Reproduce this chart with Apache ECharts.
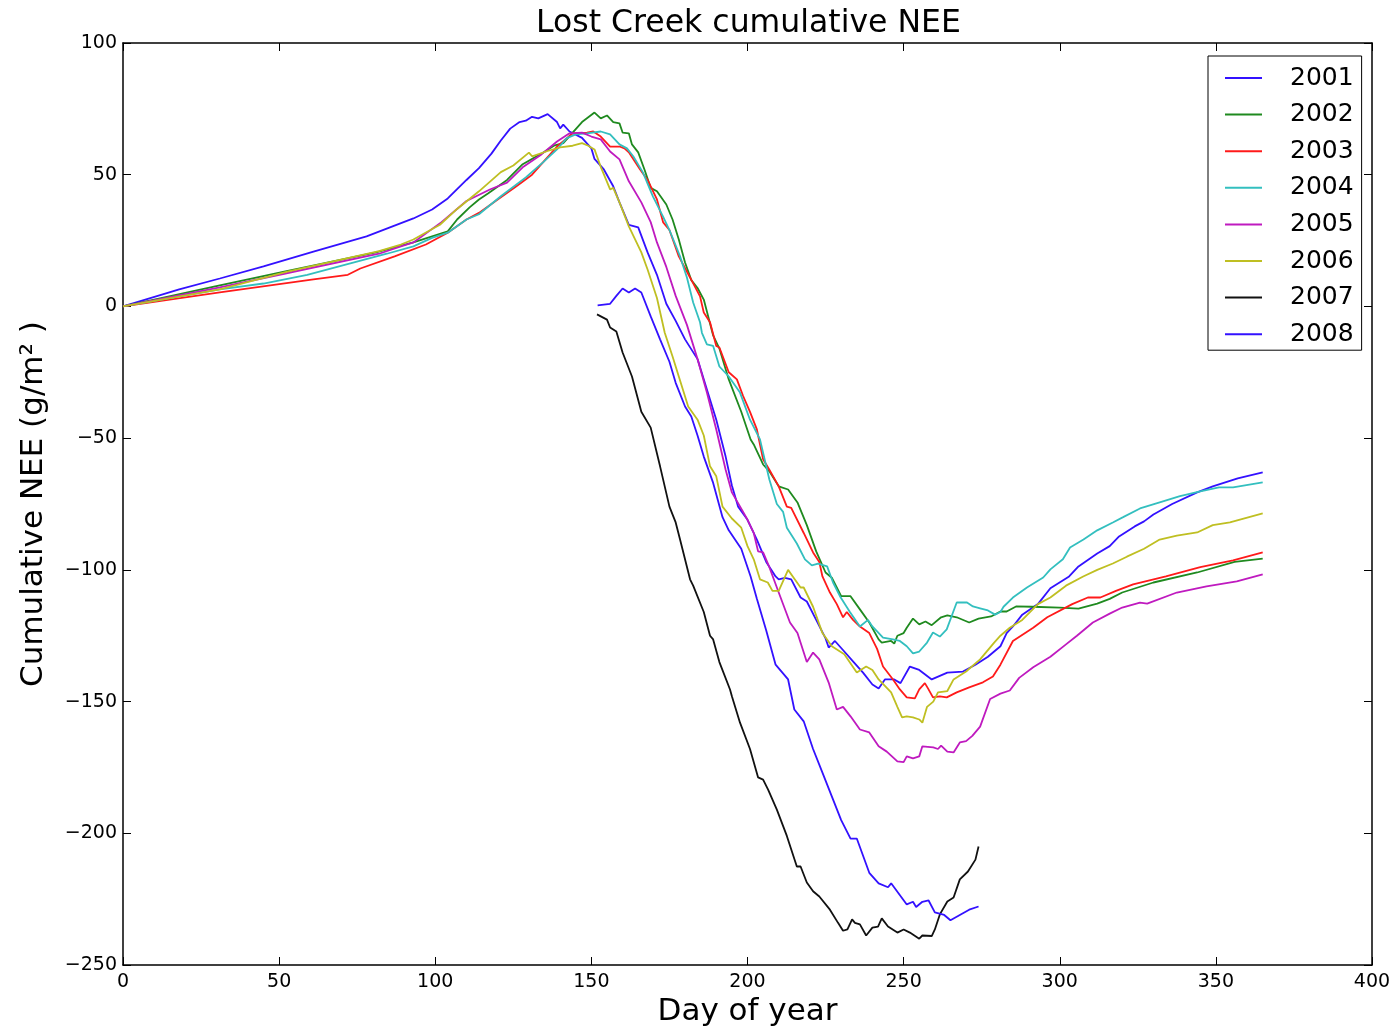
<!DOCTYPE html>
<html>
<head>
<meta charset="utf-8">
<script src="https://cdn.jsdelivr.net/npm/echarts@6/dist/echarts.min.js"></script>
<style>
  html, body { margin: 0; padding: 0; background: #fff; }
  #chart { width: 1400px; height: 1033px; }
</style>
</head>
<body>
<div id="chart"></div>
<script>
// Cumulative NEE per year, as [day of year, g/m2] pairs
const years = ['2001', '2002', '2003', '2004', '2005', '2006', '2007', '2008'];

const nee2001 = [[0,0],[18,6.5],[31,10.6],[45,15.2],[61,20.8],[78,26.6],[93,33.4],[99,36.8],[104,41],[110,48],[114,52.5],[118,58],[121,63],[124,67.5],[127,70],[129,70.5],[131,72],[133,71.4],[136,73],[139,70],[140,67.6],[141,69],[143,66.4],[147,64],[150,60],[151,56],[154,52],[157,45.6],[159,39.5],[162,31],[165,30],[168,20.5],[171,12],[174,1],[177,-5.5],[180,-12.5],[184,-20],[187,-31.5],[190,-43],[193,-57],[195,-68],[197,-76],[200,-81],[203,-88.5],[206,-97],[209,-102.5],[210,-103.6],[212,-103],[214,-103.6],[217,-110.5],[219,-112],[222,-119],[225,-126],[226,-129.5],[228,-127],[231,-131],[234,-135],[237,-139],[240,-143.5],[242,-145],[244,-141.6],[247,-141.6],[249,-143],[252,-136.7],[255,-138],[259,-141.6],[264,-139],[269,-138.6],[273,-136],[277,-133],[281,-129],[283,-124],[285,-121.5],[288,-117],[293,-113],[297,-107],[303,-102.5],[306,-98.7],[312,-93.8],[316,-91],[319,-87.3],[324,-83.5],[327,-81.6],[330,-79],[336,-75],[344,-70.6],[349,-68.3],[357,-65.3],[365,-63]];

const nee2002 = [[0,0],[31,8],[52,13.3],[81,20.5],[93,24.3],[104,28.5],[107,33],[111,37.6],[114,40.6],[117,43],[123,48],[128,54],[134,58],[138,61],[141,62],[144,66],[147,70],[151,73.6],[153,71.4],[155,72.5],[157,70],[159,69.5],[160,66],[162,65.7],[163,61.5],[165,58.5],[167,52],[169,45],[171,43.7],[174,38.7],[176,33],[178,25.4],[180,16.7],[182,10],[184,7],[186,2.6],[189,-11],[191,-16],[194,-27.7],[198,-40],[201,-50.5],[202,-52.4],[205,-60],[207,-62.6],[210,-68.3],[213,-69.5],[216,-74.4],[219,-83],[222,-93],[225,-101],[227,-103],[230,-110],[233,-110],[236,-115],[239,-120],[242,-126.4],[243,-127.6],[246,-127],[247,-128],[248,-125],[250,-124],[251,-122],[253,-118.5],[255,-120.7],[257,-119.6],[259,-121],[262,-118],[264,-117.3],[267,-118],[271,-120],[274,-118.5],[278,-117.7],[281,-115.8],[283,-115.8],[286,-113.9],[291,-114],[300,-114.3],[306,-114.7],[312,-112.8],[316,-111],[320,-108.6],[330,-104.8],[344,-101],[356,-97],[365,-95.7]];

const nee2003 = [[0,0],[31,5.3],[61,10.3],[72,12],[76,14.4],[87,19],[97,23.5],[104,28],[110,33],[114,35.5],[120,40.6],[126,45.6],[131,50],[134.5,54.7],[139,60.7],[144,65.7],[148.6,66],[150.6,66.4],[153,64.5],[156,60.7],[159,60.7],[160.6,60],[162,58.5],[165.6,52],[168,48],[171,40.6],[173,31.9],[175,29],[178,19],[181.6,11],[184.8,3.8],[186,-2.3],[188,-6],[190,-15],[191,-15.6],[194,-25],[196.6,-27.7],[198.6,-34],[200.8,-40],[203,-46.7],[205,-58],[207,-62],[210,-68.3],[212.6,-76],[214,-76.5],[218,-86],[221,-93.4],[223,-97],[224,-102.5],[226.4,-108.6],[228.6,-113],[230.6,-118],[231.8,-116],[233.8,-119],[236,-121.5],[239,-124],[241.5,-130],[243.4,-136.7],[246.6,-141.6],[248.8,-145.4],[251,-148.4],[253.6,-148.8],[255,-145.4],[256.8,-143],[257.8,-145],[259.4,-148.4],[261.6,-148],[263.8,-148.4],[267,-146.5],[271,-144.6],[275.4,-142.7],[278.6,-140.5],[281,-136],[285,-127],[291.5,-122],[296,-118],[304,-113],[309,-110.5],[313,-110.5],[318,-108],[323.5,-105.5],[334,-102.5],[345,-99],[355.5,-96.4],[365,-93.4]];

const nee2004 = [[0,0],[31,6.5],[45,8.7],[59,12],[74,16.7],[84.5,20],[93,22.8],[99,26],[104,28],[110,33],[114,35],[121,41.8],[129,49],[134.5,54.7],[139,59.6],[142,63.8],[145,65.3],[148.6,65.7],[153,66.4],[156,65.3],[159,61.5],[161.4,60],[163.4,57],[166.5,50.9],[169.7,41.8],[173,34],[175,29],[178.4,19],[180.6,11],[182.6,1.5],[184.8,-6],[185.4,-10],[187,-14.4],[189,-15],[191,-22.8],[194,-26.6],[197.6,-32.7],[200.8,-43],[204,-50.5],[207,-65.7],[209.4,-75],[211.4,-78],[212.6,-84],[215.8,-90],[218.4,-96],[220.6,-98.3],[222.6,-97.6],[225.5,-98.7],[227.4,-104.8],[229.6,-110],[232.8,-116],[236,-121.5],[238.6,-119],[240,-121.5],[243.4,-125.7],[246.6,-126.4],[248.8,-127],[251,-129],[253,-131.7],[255,-131],[257.5,-127.6],[259.4,-123.8],[261.6,-125.3],[263.8,-122.6],[267,-112.4],[270.3,-112.4],[272.2,-113.9],[274.5,-114.6],[277,-115.4],[279.3,-117],[281,-116],[282,-114],[285,-110.5],[289.5,-106.7],[294.7,-102.9],[297,-99.8],[301,-96],[303.3,-91.5],[307.6,-88.5],[312,-85],[317,-82],[320.3,-80],[325.7,-76.7],[332,-74.4],[338.5,-72],[345,-70.2],[351,-68.7],[355.5,-68.7],[365,-66.8]];

const nee2005 = [[0,0],[31,7.2],[52,12.5],[82,20],[89,22.8],[93,24.3],[102,32],[110,40],[117.5,44.4],[123,47],[128,52.8],[134,57.7],[139,62.6],[143,65.7],[147,66],[150,64.5],[153,63.4],[156,58.8],[159,55.8],[162,47.5],[166,39.5],[169,32],[171,24.3],[174,15],[177,4],[180.6,-7],[184,-20],[187,-32.7],[190,-46.7],[193,-62],[195,-70.6],[198.6,-78],[200,-81],[202,-86],[203.4,-93],[205,-93.4],[207,-99],[210,-108.6],[213.6,-120],[216,-124],[219,-135],[221,-131.4],[223,-134],[226,-142.8],[228.6,-153],[230.6,-152],[233,-155.6],[236,-160.6],[239,-161.7],[242,-167],[244.6,-169],[248,-172.7],[250,-173],[251,-170.8],[253,-171.6],[255,-170.8],[256,-167],[259.5,-167.4],[261,-168],[262,-166.7],[264,-169],[266,-169.3],[268,-165.5],[270,-165],[272,-163],[274.5,-159.5],[277.7,-149],[281,-147],[284,-145.8],[287,-141],[291.5,-137],[297,-133],[302,-128.3],[305.5,-125],[310.6,-120],[316,-116.6],[320,-114.3],[325.7,-112.4],[328,-112.8],[337.5,-108.6],[347,-106.3],[356.7,-104.4],[365,-101.7]];

const nee2006 = [[0,0],[31,6.5],[52,13],[82,21],[89,23.5],[93,25.4],[101.5,31],[107,37],[114,43.7],[121,51],[125,53.5],[130,58.4],[131,57],[136,59],[140,60.4],[144,61],[147,62],[149,61],[151,59.6],[153,53],[156,44.4],[157,45],[159,39.5],[162,30.4],[166,20.5],[168,14],[171,3.2],[173.5,-10],[176,-19],[178,-26.6],[181,-38],[184,-43],[186,-49],[188,-60.7],[190,-64.5],[192,-76],[195,-80.5],[198,-84],[200,-91],[202,-96],[204,-103.6],[206.5,-104.8],[208,-108],[210,-108],[213,-100],[214.5,-102.5],[217,-106.7],[218,-106.7],[221,-114],[224,-124],[227,-129],[231,-132],[235,-139],[238,-136.7],[240,-138],[242,-141.6],[246,-146.5],[248,-152],[249.5,-156],[251,-155.6],[253,-156],[255,-156.8],[256,-158],[257.5,-152],[259.5,-150],[261,-146.5],[264,-146],[266,-141.6],[270,-138.6],[274.5,-134],[279,-127.6],[281,-125],[284,-122],[288,-119],[293,-113],[297,-110.5],[302,-106],[307.5,-102.5],[312,-100],[317,-97.6],[321.5,-95],[327,-92],[332,-88.5],[337.5,-87],[344,-85.8],[349,-83],[354.5,-82],[365,-78.6]];

const nee2007 = [[151.8,-3],[155,-5],[156,-8],[158,-9.5],[160,-17.5],[163,-26.6],[166,-40],[169,-46],[172,-60.7],[175,-76],[177,-82],[178.4,-88.5],[181.6,-103.6],[182.6,-106],[186,-116],[188,-125],[189,-126.4],[191,-135],[194.4,-145.4],[195,-148],[197.6,-158],[200.8,-168],[203.4,-178.8],[205,-179.6],[206.6,-183.4],[209.4,-191],[212.6,-201],[215.8,-212.6],[217,-212.6],[219,-218.7],[221,-222],[223,-224],[226.4,-229],[229,-234],[230.6,-237],[232,-236.5],[233.5,-232.7],[234.4,-234],[236,-234.6],[238,-238.8],[240,-235.8],[241.8,-235.4],[243,-232.3],[245,-235.4],[248,-237.7],[250,-236.5],[252,-237.7],[255,-240],[256,-238.8],[259,-239],[260,-236.5],[261.6,-230.8],[264,-225.9],[266,-224.4],[268,-217.5],[270.6,-214.5],[273,-210],[274,-205]];

const nee2008 = [[152,0.4],[156,1],[158,4],[160,6.8],[162,5.3],[164,6.8],[166,5.3],[169,-3.8],[172,-12.5],[175,-21],[177,-29],[180,-38],[182,-41.8],[184,-49],[186,-57],[189,-67],[192,-80],[194,-85],[198,-92],[201,-102.5],[203,-111],[206,-123],[209,-136],[213,-141.6],[215,-153],[218,-157.5],[221,-168],[224,-177],[227,-186],[230,-195],[233,-202],[235,-202],[239,-215],[242,-219],[245,-220.5],[246,-219],[251,-227],[253,-226],[254,-228],[256,-226],[258,-225.5],[260,-230],[263,-231],[265,-233],[268,-231],[271,-229],[274,-227.8]];

const yearData = [nee2001, nee2002, nee2003, nee2004, nee2005, nee2006, nee2007, nee2008];
const yearColors = ['#3311ff', '#1f8a1f', '#ff1a1a', '#33bfbf', '#bf1abf', '#bfbf22', '#111111', '#3311ff'];

const FONT = 'DejaVu Sans';
const minusFmt = v => String(v).replace('-', '\u2212');

const chart = echarts.init(document.getElementById('chart'), null, { renderer: 'canvas' });

// frame lines stay on the plot edges instead of crossing at zero
const frameLine = { show: true, onZero: false, lineStyle: { color: '#000', width: 1.5 } };
const innerTick = { show: true, inside: true, length: 8, lineStyle: { color: '#000', width: 1 } };

chart.setOption({
  backgroundColor: '#fff',
  animation: false,
  title: {
    text: 'Lost Creek cumulative NEE',
    left: 536,
    top: 8,
    padding: 0,
    textStyle: { fontFamily: FONT, fontSize: 31.5, fontWeight: 'normal', color: '#000' }
  },
  grid: { left: 123, right: 28, top: 43, bottom: 68, containLabel: false },
  legend: {
    data: years,
    orient: 'vertical',
    left: 1208,
    top: 56,
    padding: [8, 8, 2, 17],
    itemWidth: 37,
    itemHeight: 2,
    itemGap: 8.6,
    icon: 'rect',
    borderColor: '#000',
    borderWidth: 1,
    borderRadius: 0,
    backgroundColor: '#fff',
    textStyle: { fontFamily: FONT, fontSize: 25, color: '#000', lineHeight: 28, padding: [0, 0, 0, 23] }
  },
  xAxis: [
    {
      type: 'value', min: 0, max: 400, interval: 50,
      name: 'Day of year', nameLocation: 'middle', nameGap: 30,
      nameTextStyle: { fontFamily: FONT, fontSize: 31, color: '#000' },
      axisLine: frameLine, axisTick: innerTick,
      axisLabel: { fontFamily: FONT, fontSize: 19, color: '#000', margin: 8 },
      splitLine: { show: false }
    },
    {
      type: 'value', min: 0, max: 400, interval: 50, position: 'top',
      axisLine: frameLine, axisTick: innerTick,
      axisLabel: { show: false }, splitLine: { show: false }
    }
  ],
  yAxis: [
    {
      type: 'value', min: -250, max: 100, interval: 50,
      name: 'Cumulative NEE (g/m\u00B2 )', nameLocation: 'middle', nameGap: 74, nameRotate: 90,
      nameTextStyle: { fontFamily: FONT, fontSize: 31, color: '#000' },
      axisLine: frameLine, axisTick: innerTick,
      axisLabel: { fontFamily: FONT, fontSize: 19, color: '#000', margin: 6, formatter: minusFmt },
      splitLine: { show: false }
    },
    {
      type: 'value', min: -250, max: 100, interval: 50, position: 'right',
      axisLine: frameLine, axisTick: innerTick,
      axisLabel: { show: false }, splitLine: { show: false }
    }
  ],
  series: years.map((yr, i) => ({
    name: yr,
    type: 'line',
    xAxisIndex: 0,
    yAxisIndex: 0,
    data: yearData[i],
    showSymbol: false,
    symbol: 'none',
    color: yearColors[i],
    lineStyle: { color: yearColors[i], width: 1.8 },
    z: 2 + i
  }))
});
</script>
</body>
</html>
